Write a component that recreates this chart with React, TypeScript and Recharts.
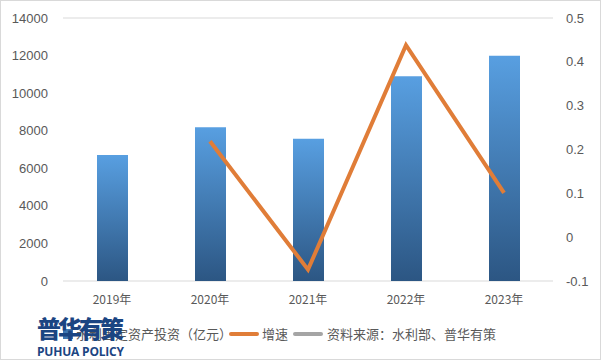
import React from "react";
import { ComposedChart, Bar, Line, XAxis, YAxis, CartesianGrid } from "recharts";

const years = ["2019年", "2020年", "2021年", "2022年", "2023年"];
const investment = [6712, 8181, 7576, 10893, 11996];
const growth: (number | null)[] = [null, 0.219, -0.074, 0.438, 0.101];
const leftTicks = [0, 2000, 4000, 6000, 8000, 10000, 12000, 14000];
const rightTicks = [-0.1, 0, 0.1, 0.2, 0.3, 0.4, 0.5];

const data = years.map((y, i) => ({ year: y, inv: investment[i], g: growth[i] }));

const FONT = "'Noto Sans CJK SC', 'Liberation Sans', sans-serif";
const TXT = "#595959";

export default function App() {
  return (
    <div
      style={{
        position: "absolute",
        left: 0,
        top: 0,
        width: 601,
        height: 360,
        background: "#fff",
        boxSizing: "border-box",
        border: "1px solid #d9d9d9",
        fontFamily: FONT,
        overflow: "hidden",
      }}
    >
      <div style={{ position: "absolute", left: -1, top: -1 }}>
        <ComposedChart width={601} height={360} data={data} margin={{ top: 18, right: 0, bottom: 49, left: 0 }}>
          <defs>
            <linearGradient id="barGrad" x1="0" y1="0" x2="0" y2="1">
              <stop offset="0%" stopColor="#589fe1" />
              <stop offset="100%" stopColor="#2c5683" />
            </linearGradient>
          </defs>
          <CartesianGrid vertical={false} stroke="#d9d9d9" strokeWidth={1} />
          <XAxis
            dataKey="year"
            axisLine={false}
            tickLine={false}
            height={30}
            tick={{ fill: TXT, fontSize: 12, fontFamily: FONT }}
            tickMargin={8}
          />
          <YAxis
            yAxisId="left"
            width={63}
            domain={[0, 14000]}
            ticks={leftTicks}
            interval={0}
            axisLine={false}
            tickLine={false}
            tickSize={0}
            tickMargin={15}
            tick={{ fill: TXT, fontSize: 13, fontFamily: "'Liberation Sans', sans-serif" }}
          />
          <YAxis
            yAxisId="right"
            orientation="right"
            width={48}
            domain={[-0.1, 0.5]}
            ticks={rightTicks}
            interval={0}
            axisLine={false}
            tickLine={false}
            tickSize={0}
            tickMargin={13}
            tick={{ fill: TXT, fontSize: 13, fontFamily: "'Liberation Sans', sans-serif" }}
          />
          <Bar yAxisId="left" dataKey="inv" fill="url(#barGrad)" barSize={31} isAnimationActive={false} />
          <Line
            yAxisId="right"
            dataKey="g"
            stroke="#e07d38"
            strokeWidth={4}
            dot={false}
            activeDot={false}
            type="linear"
            isAnimationActive={false}
          />
        </ComposedChart>
      </div>
      {/* legend */}
      <div
        style={{
          position: "absolute",
          left: 0,
          top: 323,
          width: 601,
          height: 20,
          fontSize: 13,
          color: TXT,
          fontFamily: FONT,
          whiteSpace: "nowrap",
        }}
      >
        <span style={{ position: "absolute", left: 62, top: 5, width: 10, height: 10, background: "#3f78b3" }} />
        <span style={{ position: "absolute", left: 75, top: 0, lineHeight: "20px" }}>水利固定资产投资（亿元）</span>
        <span style={{ position: "absolute", left: 228, top: 8, width: 30, height: 4, borderRadius: 2, background: "#e07d38" }} />
        <span style={{ position: "absolute", left: 261, top: 0, lineHeight: "20px" }}>增速</span>
        <span style={{ position: "absolute", left: 292, top: 8, width: 30, height: 4, borderRadius: 2, background: "#a5a5a5" }} />
        <span style={{ position: "absolute", left: 326, top: 0, lineHeight: "20px" }}>资料来源：水利部、普华有策</span>
      </div>
      {/* logo */}
      <div style={{ position: "absolute", left: 36, top: 312, color: "#1b4582", fontFamily: FONT }}>
        <div style={{ fontSize: 24, fontWeight: 900, lineHeight: "30px", letterSpacing: -3 }}>普华有策</div>
        <div style={{ fontSize: 12, fontWeight: 700, lineHeight: "14px", marginTop: 2, fontFamily: "'Open Sans', sans-serif", letterSpacing: -0.2 }}>PUHUA POLICY</div>
      </div>
    </div>
  );
}
